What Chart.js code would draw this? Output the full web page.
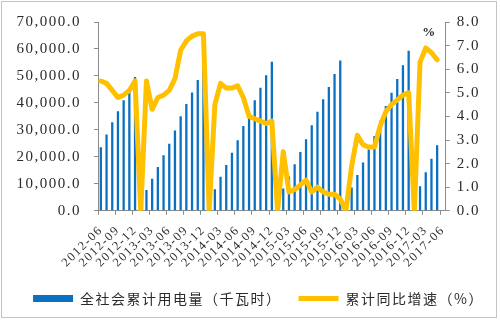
<!DOCTYPE html>
<html>
<head>
<meta charset="utf-8">
<script src="https://cdn.jsdelivr.net/npm/chart.js@4.4.1/dist/chart.umd.min.js"></script>
<style>
  html, body { margin: 0; padding: 0; background: #fff; }
  #wrap { position: relative; width: 501px; height: 322px; }
  #wrap canvas { position: absolute; left: 0; top: 0; }
  #frame { position: absolute; left: 1px; top: 1px; width: 494px; height: 315px;
           border: 1.5px solid #c4c4c4; pointer-events: none; }
</style>
</head>
<body>
<div id="wrap">
  <canvas id="chart" width="501" height="322"></canvas>
  <div id="frame"></div>
</div>
<script>
// Month categories, June 2012 through June 2017
const months = [
  '2012-06','2012-07','2012-08','2012-09','2012-10','2012-11','2012-12',
  '2013-01','2013-02','2013-03','2013-04','2013-05','2013-06','2013-07','2013-08','2013-09','2013-10','2013-11','2013-12',
  '2014-01','2014-02','2014-03','2014-04','2014-05','2014-06','2014-07','2014-08','2014-09','2014-10','2014-11','2014-12',
  '2015-01','2015-02','2015-03','2015-04','2015-05','2015-06','2015-07','2015-08','2015-09','2015-10','2015-11','2015-12',
  '2016-01','2016-02','2016-03','2016-04','2016-05','2016-06','2016-07','2016-08','2016-09','2016-10','2016-11','2016-12',
  '2017-01','2017-02','2017-03','2017-04','2017-05','2017-06'
];

// Cumulative electricity consumption of the whole society
const consumption = [
  23600, 28300, 32800, 36900, 41000, 44000, 49600,
  null, 7700, 11900, 16200, 20600, 24900, 29800, 35100, 39600, 43900, 48500, 53200,
  null, 8000, 12600, 17000, 21500, 26200, 31400, 35800, 41000, 45600, 50300, 55300,
  null, 8300, 12700, 17300, 21800, 26500, 31700, 36700, 41400, 45900, 50700, 55700,
  null, 8600, 13300, 17900, 22700, 27700, 33400, 38900, 43800, 48900, 54000, 59300,
  null, 9100, 14300, 19300, 24300, null
];

// Cumulative year-on-year growth (%)
const growth = [
  5.5, 5.4, 5.1, 4.8, 4.9, 5.1, 5.5,
  0, 5.5, 4.3, 4.8, 4.9, 5.1, 5.6, 6.8, 7.2, 7.4, 7.5, 7.5,
  0, 4.5, 5.4, 5.2, 5.2, 5.3, 4.8, 4.0, 3.9, 3.8, 3.7, 3.8,
  0, 2.5, 0.8, 0.9, 1.1, 1.3, 0.8, 1.0, 0.8, 0.7, 0.7, 0.5,
  0, 1.9, 3.2, 2.8, 2.7, 2.7, 3.6, 4.2, 4.5, 4.7, 4.9, 5.0,
  0, 6.3, 6.9, 6.7, 6.4, null
];

const seriesNames = ['全社会累计用电量（千瓦时）', '累计同比增速（%）'];
const leftAxisRange = [0, 70000, 10000];
const rightAxisRange = [0, 8, 1];
const rightAxisUnit = '%';

const BLUE = '#0a70c2';
const GOLD = '#ffc000';
const AXIS = '#8c8c8c';
const TEXT = '#2b2b2b';
const NUM_FONT = "'Liberation Serif', 'Noto Sans CJK SC', serif";
const CJK_FONT = "'Noto Sans CJK SC', 'Liberation Serif', sans-serif";

// Wide character spacing for all canvas text
const spacedText = {
  id: 'spacedText',
  beforeUpdate(chart) { chart.ctx.letterSpacing = '1.5px'; },
  beforeDraw(chart) { chart.ctx.letterSpacing = '1.5px'; }
};

// Unit caption above the right axis
const unitCaption = {
  id: 'unitCaption',
  afterDraw(chart) {
    const s = chart.scales.yR;
    const ctx = chart.ctx;
    ctx.save();
    ctx.letterSpacing = '0px';
    ctx.font = "bold 13px " + NUM_FONT;
    ctx.fillStyle = TEXT;
    ctx.textAlign = 'center';
    ctx.textBaseline = 'middle';
    ctx.fillText(rightAxisUnit, s.left - 17, s.getPixelForValue(7.55));
    ctx.restore();
  }
};

const tickColor = (ctx) => (ctx.index % 3 === 0 ? AXIS : 'rgba(0,0,0,0)');

new Chart(document.getElementById('chart'), {
  data: {
    labels: months,
    datasets: [
      {
        type: 'bar',
        label: seriesNames[0],
        data: consumption,
        yAxisID: 'yL',
        backgroundColor: BLUE,
        borderWidth: 0,
        barPercentage: 0.4,
        categoryPercentage: 1.0,
        order: 1
      },
      {
        type: 'line',
        label: seriesNames[1],
        data: growth,
        yAxisID: 'yR',
        borderColor: GOLD,
        backgroundColor: GOLD,
        borderWidth: 5,
        pointRadius: 0,
        tension: 0,
        borderJoinStyle: 'round',
        borderCapStyle: 'round',
        spanGaps: false,
        order: 0
      }
    ]
  },
  options: {
    responsive: false,
    animation: false,
    devicePixelRatio: 1,
    layout: { padding: { left: 16, right: 0, top: 20.7, bottom: 6.5 } },
    plugins: {
      tooltip: { enabled: false },
      legend: {
        position: 'bottom',
        labels: {
          usePointStyle: true,
          pointStyleWidth: 40,
          boxHeight: 7,
          padding: 17,
          color: TEXT,
          font: { size: 14, family: CJK_FONT },
          sort: (a, b) => a.datasetIndex - b.datasetIndex,
          generateLabels(chart) {
            const items = Chart.defaults.plugins.legend.labels.generateLabels(chart);
            items.forEach(it => { it.pointStyle = it.datasetIndex === 0 ? 'rect' : 'line'; });
            return items;
          }
        }
      }
    },
    scales: {
      x: {
        type: 'category',
        offset: true,
        grid: { offset: true, drawOnChartArea: false, tickLength: 4, color: tickColor },
        border: { color: AXIS },
        ticks: {
          autoSkip: false,
          minRotation: 45,
          maxRotation: 45,
          padding: 8,
          color: TEXT,
          font: { size: 12.5, family: NUM_FONT },
          callback: (v, i) => (i % 3 === 0 ? months[i] : '')
        },
        afterFit(s) { s.height = 63.7; }
      },
      yL: {
        position: 'left',
        min: leftAxisRange[0],
        max: leftAxisRange[1],
        grid: { drawOnChartArea: false, tickLength: 4, color: AXIS },
        border: { color: AXIS },
        ticks: {
          stepSize: leftAxisRange[2],
          padding: 13,
          color: TEXT,
          font: { size: 15, family: NUM_FONT },
          callback: v => v.toLocaleString('en-US', { minimumFractionDigits: 1, maximumFractionDigits: 1 })
        },
        afterFit(s) { s.width = 82; }
      },
      yR: {
        position: 'right',
        min: rightAxisRange[0],
        max: rightAxisRange[1],
        grid: { drawOnChartArea: false, tickLength: 4, color: AXIS },
        border: { color: AXIS },
        ticks: {
          stepSize: rightAxisRange[2],
          padding: 7,
          color: TEXT,
          font: { size: 15, family: NUM_FONT },
          callback: v => v.toFixed(1)
        },
        afterFit(s) { s.width = 55.3; }
      }
    }
  },
  plugins: [spacedText, unitCaption]
});
</script>
</body>
</html>
